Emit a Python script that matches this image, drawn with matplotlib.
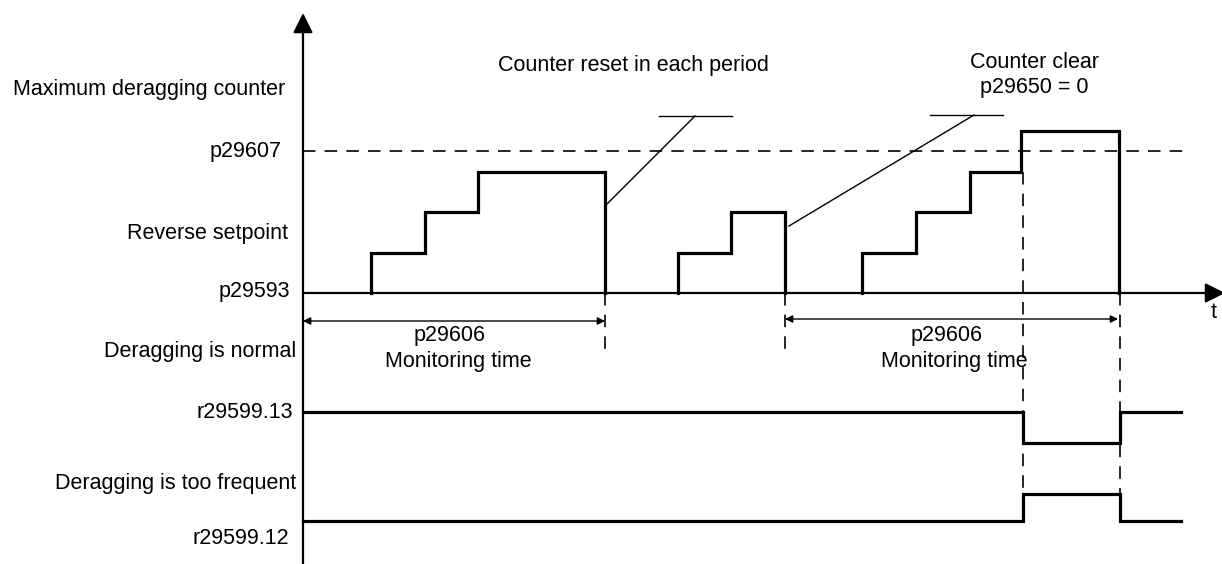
import matplotlib
matplotlib.use("Agg")
import matplotlib.pyplot as plt

# ---------------- data (schematic units: x = time position, levels = counter steps) -------------
# deragging counter step sequences (time of each step, counter level after step)
c1_t = [371, 371, 425, 478, 605, 605]
c1_lv = [0, 1, 2, 3, 3, 0]
c2_t = [678, 678, 731, 785, 785]
c2_lv = [0, 1, 2, 2, 0]
c3_t = [862, 862, 916, 970, 1021, 1119, 1119]
c3_lv = [0, 1, 2, 3, 4, 4, 0]
max_counter_level = 3.5  # p29607 dashed threshold

# status bits
sig_t = [303, 1023, 1120, 1181]
normal_bit = [1, 0, 1, 1]      # r29599.13
frequent_bit = [0, 1, 0, 0]    # r29599.12

# monitoring windows
win1 = (303, 605)
win2 = (785, 1118)

left_labels = ["Maximum deragging counter", "p29607", "Reverse setpoint", "p29593",
               "Deragging is normal", "r29599.13", "Deragging is too frequent", "r29599.12"]

# ---------------- layout ----------------
W, H = 1222, 564
fig = plt.figure(figsize=(W / 100, H / 100), dpi=100)
ax = fig.add_axes([0, 0, 1, 1])
ax.set_xlim(0, W)
ax.set_ylim(H, 0)
ax.axis("off")

FONT = "Liberation Sans"
FS = 15.5
BASE = 293.0
STEP = 40.5


def lv2y(v):
    return BASE - STEP * v


def bit_y(b, low, high):
    return [high if v else low for v in b]


thick = 2.3
thin = 1.0
DASH = (7.5, 5.5)

# axes arrows
ax.annotate("", xy=(303, 13), xytext=(303, 564), annotation_clip=False,
            arrowprops=dict(arrowstyle="-|>", mutation_scale=30, lw=1.6, color="black",
                            shrinkA=0, shrinkB=0))
ax.annotate("", xy=(1225, BASE), xytext=(303, BASE), annotation_clip=False,
            arrowprops=dict(arrowstyle="-|>", mutation_scale=30, lw=1.6, color="black",
                            shrinkA=0, shrinkB=0))
ax.text(1214, 313, "t", fontsize=FS, family=FONT, ha="center", va="center")

# threshold dashed line
ax.plot([303, 1183], [lv2y(max_counter_level)] * 2, color="black", lw=1.2,
        dashes=DASH)

# counter steps
for t, lv in [(c1_t, c1_lv), (c2_t, c2_lv), (c3_t, c3_lv)]:
    ax.step(t, [lv2y(v) for v in lv], where="post", color="black", lw=thick,
            solid_joinstyle="miter")

# status signals
ax.step(sig_t, bit_y(normal_bit, 443, 412), where="post", color="black", lw=thick,
        solid_joinstyle="miter")
ax.step(sig_t, bit_y(frequent_bit, 521, 494), where="post", color="black", lw=thick,
        solid_joinstyle="miter")

# vertical dashed markers
dash_v = dict(color="black", lw=1.2, dashes=DASH)
ax.plot([605, 605], [BASE, 349], **dash_v)
ax.plot([785, 785], [BASE, 349], **dash_v)
ax.plot([1023, 1023], [lv2y(3), 494], **dash_v)
ax.plot([1120, 1120], [BASE, 494], **dash_v)

# monitoring-time double arrows
for (a, b), y in [(win1, 321), (win2, 319)]:
    ax.annotate("", xy=(b, y), xytext=(a, y),
                arrowprops=dict(arrowstyle="<|-|>", mutation_scale=11, lw=1.0,
                                color="black", shrinkA=0, shrinkB=0))
ax.text(450, 336, "p29606", fontsize=FS, family=FONT, ha="center", va="center")
ax.text(458, 361, "Monitoring time", fontsize=FS, family=FONT, ha="center", va="center")
ax.text(947, 336, "p29606", fontsize=FS, family=FONT, ha="center", va="center")
ax.text(954, 361, "Monitoring time", fontsize=FS, family=FONT, ha="center", va="center")

# leader lines
ax.plot([659, 732], [116, 116], color="black", lw=thin)
ax.plot([695, 607], [116, 204], color="black", lw=thin)
ax.plot([930, 1003], [115, 115], color="black", lw=thin)
ax.plot([974, 789], [115, 226], color="black", lw=thin)

ax.text(633, 66, "Counter reset in each period", fontsize=FS, family=FONT,
        ha="center", va="center")
ax.text(1034, 62, "Counter clear", fontsize=FS, family=FONT, ha="center", va="center")
ax.text(1034, 88, "p29650 = 0", fontsize=FS, family=FONT, ha="center", va="center")

# left labels
label_pos = [(285, 90), (282, 152), (288, 234), (290, 291),
             (296, 352), (293, 413), (296, 483), (289, 538)]
for txt, (x, y) in zip(left_labels, label_pos):
    ax.text(x, y, txt, fontsize=FS, family=FONT, ha="right", va="center")

fig.savefig("out.png", dpi=100)
